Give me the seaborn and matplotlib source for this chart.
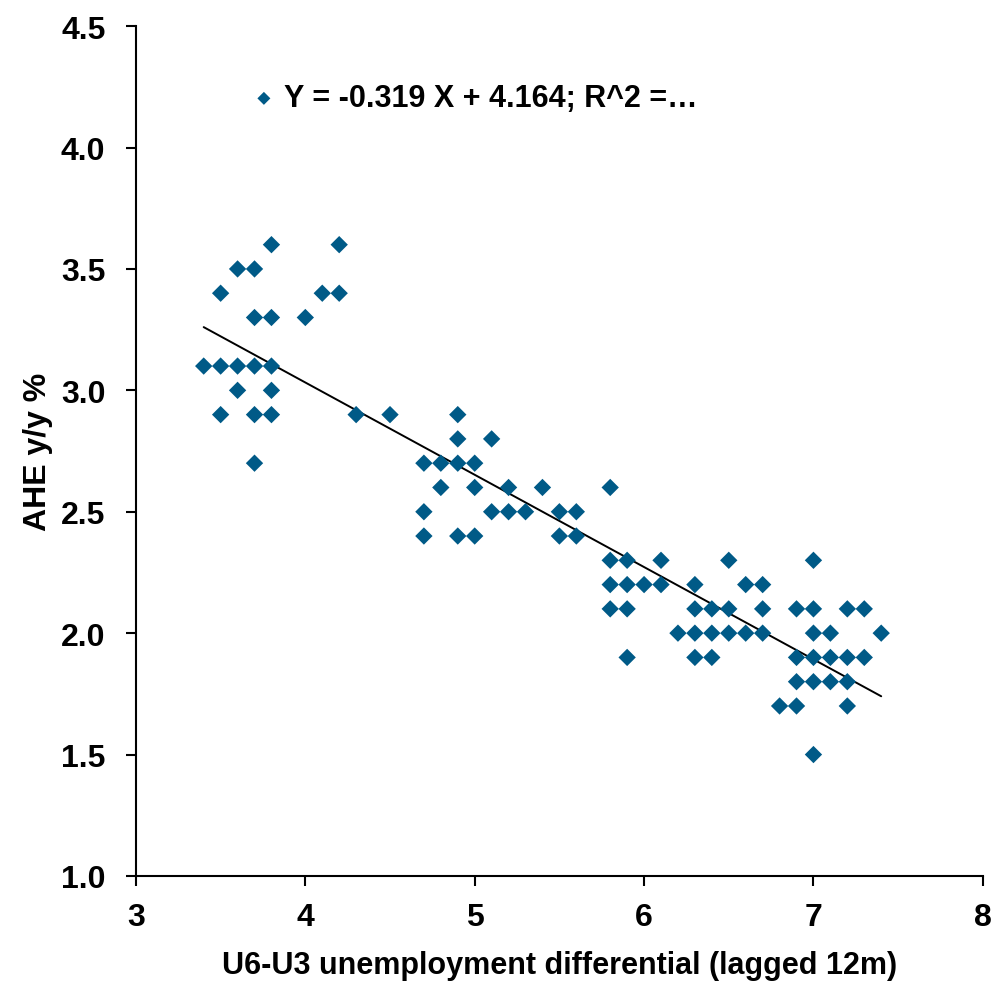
import matplotlib
matplotlib.use("Agg")
import matplotlib.pyplot as plt
import seaborn as sns
import numpy as np
import pandas as pd
from matplotlib import font_manager

# ---- data ----
x_vals = [3.4,
          3.5, 3.5, 3.5,
          3.6, 3.6, 3.6,
          3.7, 3.7, 3.7, 3.7, 3.7,
          3.8, 3.8, 3.8, 3.8, 3.8,
          4.0, 4.1, 4.2, 4.2, 4.3, 4.5,
          4.7, 4.7, 4.7,
          4.8, 4.8,
          4.9, 4.9, 4.9, 4.9,
          5.0, 5.0, 5.0,
          5.1, 5.1,
          5.2, 5.2,
          5.3, 5.4,
          5.5, 5.5,
          5.6, 5.6,
          5.8, 5.8, 5.8, 5.8,
          5.9, 5.9, 5.9, 5.9,
          6.0,
          6.1, 6.1,
          6.2,
          6.3, 6.3, 6.3, 6.3,
          6.4, 6.4, 6.4,
          6.5, 6.5, 6.5,
          6.6, 6.6,
          6.7, 6.7, 6.7,
          6.8,
          6.9, 6.9, 6.9, 6.9,
          7.0, 7.0, 7.0, 7.0, 7.0, 7.0,
          7.1, 7.1, 7.1,
          7.2, 7.2, 7.2, 7.2,
          7.3, 7.3,
          7.4]
y_vals = [3.1,
          3.4, 3.1, 2.9,
          3.5, 3.1, 3.0,
          3.5, 3.3, 3.1, 2.9, 2.7,
          3.6, 3.3, 3.1, 3.0, 2.9,
          3.3, 3.4, 3.6, 3.4, 2.9, 2.9,
          2.7, 2.5, 2.4,
          2.7, 2.6,
          2.9, 2.8, 2.7, 2.4,
          2.7, 2.6, 2.4,
          2.8, 2.5,
          2.6, 2.5,
          2.5, 2.6,
          2.5, 2.4,
          2.5, 2.4,
          2.6, 2.3, 2.2, 2.1,
          2.3, 2.2, 2.1, 1.9,
          2.2,
          2.3, 2.2,
          2.0,
          2.2, 2.1, 2.0, 1.9,
          2.1, 2.0, 1.9,
          2.3, 2.1, 2.0,
          2.2, 2.0,
          2.2, 2.1, 2.0,
          1.7,
          2.1, 1.9, 1.8, 1.7,
          2.3, 2.1, 2.0, 1.9, 1.8, 1.5,
          2.0, 1.9, 1.8,
          2.1, 1.9, 1.8, 1.7,
          2.1, 1.9,
          2.0]
legend_label = "Y = -0.319 X + 4.164; R^2 =\u2026"
x_label = "U6-U3 unemployment differential (lagged 12m)"
y_label = "AHE y/y %"
x_ticks = [3, 4, 5, 6, 7, 8]
y_ticks = [1.0, 1.5, 2.0, 2.5, 3.0, 3.5, 4.0, 4.5]

df = pd.DataFrame({"x": x_vals, "y": y_vals})

sns.set_style("ticks")
installed = {f.name for f in font_manager.fontManager.ttflist}
fam = [f for f in ["Liberation Sans Narrow", "Arial Narrow", "Liberation Sans", "DejaVu Sans"] if f in installed]
plt.rcParams["font.family"] = fam
plt.rcParams["font.weight"] = "bold"
plt.rcParams["text.color"] = "black"
plt.rcParams["axes.labelcolor"] = "black"

fig = plt.figure(figsize=(10.07, 9.87), dpi=100)
ax = fig.add_axes([0.135, 0.1115, 0.841, 0.861])

marker_color = "#005A87"
sns.scatterplot(data=df, x="x", y="y", ax=ax, marker="D", s=78,
                color=marker_color, edgecolor="none", label=legend_label, zorder=3)
sns.regplot(data=df, x="x", y="y", ax=ax, scatter=False, ci=None,
            line_kws={"color": "black", "lw": 1.4, "zorder": 2})

ax.set_xlim(3, 8)
ax.set_ylim(1.0, 4.5)
ax.set_xticks(x_ticks)
ax.set_yticks(y_ticks)
ax.set_xticklabels([str(t) for t in x_ticks])
ax.set_yticklabels([f"{t:.1f}" for t in y_ticks])
ax.tick_params(axis="both", labelsize=23, direction="out", length=7, width=1.5,
               color="black", labelcolor="black", bottom=True, left=True)
ax.tick_params(axis="y", pad=15)
ax.tick_params(axis="x", pad=12)
for lab in ax.get_xticklabels() + ax.get_yticklabels():
    lab.set_fontweight("bold")

for side in ["top", "right"]:
    ax.spines[side].set_visible(False)
for side in ["left", "bottom"]:
    ax.spines[side].set_color("black")
    ax.spines[side].set_linewidth(1.5)

ax.set_xlabel(x_label, fontsize=22, fontweight="bold", labelpad=13, color="black")
ax.set_ylabel(y_label, fontsize=23, fontweight="bold", color="black")
ax.yaxis.set_label_coords(-0.098, 0.5)

leg = ax.legend(loc="center left", bbox_to_anchor=(0.115, 0.915), frameon=False,
                fontsize=22, handletextpad=0.05, markerscale=0.75, borderaxespad=0,
                handlelength=1.2)
for t in leg.get_texts():
    t.set_fontweight("bold")
    t.set_color("black")

fig.savefig("out.png", dpi=100)
